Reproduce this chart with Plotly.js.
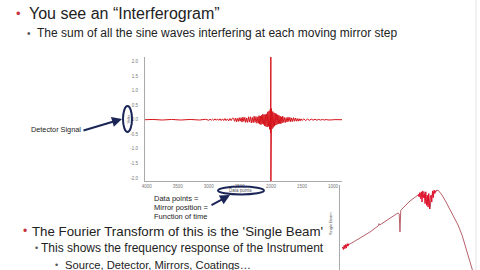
<!DOCTYPE html>
<html>
<head>
<meta charset="utf-8">
<script src="https://cdn.plot.ly/plotly-3.0.1.min.js"></script>
<style>html,body{margin:0;padding:0;background:#fff;}#chart{width:480px;height:270px;}</style>
</head>
<body>
<div id="chart"></div>
<script>
// Interferogram (detector signal vs data points)
const ifgX = [4027,3900,3750,3600,3450,3300,3150,3050,
  3000,2980,2960,2940,2920,2900,2880,2860,2840,2820,2800,2780,2760,2740,2720,2700,2680,2660,2640,2620,
  2600,2585,2570,2555,2540,2525,2510,2495,2480,2465,2450,2435,2420,2405,2390,2375,2360,2345,2330,2315,2300,2285,2270,2255,2240,2225,2210,
  2200,2190,2180,2170,2160,2150,2140,2130,2120,2110,2100,2090,2080,2070,2060,2050,2040,2030,2020,2010,
  2006,2003,2001,2000,1998,1995,
  1990,1980,1970,1960,1950,1940,1930,1920,1910,1900,1890,1880,1870,1860,1850,1840,1830,1820,1810,1800,
  1785,1770,1755,1740,1725,1710,1695,1680,1665,1650,1635,1620,1605,1590,1575,1560,1545,1530,1515,1500,
  1470,1440,1410,1380,1350,1320,1290,1260,1230,1200,1170,1140,1110,1080,1050,1020,
  980,920,855];
const ifgY = [0,0.01,-0.01,0.01,-0.01,0.01,-0.01,0.015,
  -0.02,0.02,-0.02,0.02,-0.02,0.03,-0.02,0.03,-0.02,0.03,-0.03,0.03,-0.03,0.04,-0.03,0.03,-0.04,0.04,-0.03,0.05,
  0.05,-0.05,0.06,-0.07,0.05,-0.06,0.07,-0.05,0.07,-0.08,0.09,-0.06,0.08,-0.09,0.06,-0.09,0.1,-0.08,0.1,-0.11,0.08,-0.1,0.12,-0.09,0.11,-0.12,0.1,
  -0.12,0.14,-0.15,0.13,-0.17,0.15,-0.14,0.19,-0.16,0.18,-0.21,0.18,-0.23,0.2,-0.25,0.27,-0.23,0.3,-0.33,0.36,
  -0.45,0.65,2.15,-2.12,0.55,-0.5,
  0.38,-0.31,0.28,-0.26,0.24,-0.22,0.22,-0.18,0.2,-0.16,0.17,-0.14,0.15,-0.13,0.12,-0.14,0.1,-0.11,0.12,-0.09,
  0.08,-0.1,0.07,-0.08,0.09,-0.06,0.08,-0.07,0.06,-0.06,0.07,-0.05,0.06,-0.05,0.04,-0.05,0.035,-0.04,0.03,-0.025,
  0.025,-0.025,0.02,-0.02,0.02,-0.015,0.015,-0.015,0.012,-0.012,0.01,-0.01,0.008,-0.008,0.006,-0.006,
  0.004,-0.004,0];
const ifgTickVals = [4000,3500,3000,2500,2000,1500,1000];
const ifgTickText = ["4000","3500","3000","2500","2000","1500","1000"];
const voltTickVals = [2,1.5,1,0.5,0,-0.5,-1,-1.5,-2];
const voltTickText = ["2.0","1.5","1.0","0.5","0.0","-0.5","-1.0","-1.5","-2.0"];

// Single beam spectrum
const sbX = [3900,3686,3419,3152,2930,2911,2890,2617,2403,2370,2350,2330,2296,2082,1868,1681,1628,1600,1548,1510,1468,1334,1227,1120,1013,906,799,692,585,478,398];
const sbY = [0.259,0.306,0.376,0.447,0.52,0.545,0.53,0.612,0.671,0.66,0.447,0.70,0.718,0.812,0.882,0.918,0.765,0.88,0.718,0.86,0.906,0.941,0.882,0.80,0.706,0.624,0.529,0.412,0.259,0.094,-0.024];
const sbNoiseX = [3880,3860,3840,3820,3800,3780,3760,3740,3720];
const sbNoiseY = [0.27,0.24,0.29,0.25,0.3,0.26,0.31,0.28,0.31];
const sbWaterX = [1860,1840,1820,1800,1780,1760,1740,1720,1700,1680,1660,1640,1620,1600,1580,1560,1540,1520,1500,1480,1460,1440,1420,1400,1380];
const sbWaterY = [0.89,0.86,0.91,0.84,0.92,0.8,0.93,0.85,0.9,0.78,0.92,0.76,0.88,0.74,0.9,0.72,0.86,0.88,0.8,0.93,0.85,0.94,0.9,0.93,0.94];

const W = 480, H = 270;
const px = v => v / W;
const py = v => 1 - v / H;
const FONT = "Liberation Sans, Arial, sans-serif";
const navy = "#1b2657";

function txt(text, x, y, size, color, extra) {
  return Object.assign({text: text, xref: "paper", yref: "paper", x: px(x), y: py(y),
    xanchor: "left", yanchor: "middle", showarrow: false,
    font: {family: FONT, size: size, color: color}}, extra || {});
}
function arrow(hx, hy, tx, ty) {
  return {text: "", xref: "paper", yref: "paper", x: px(hx), y: py(hy), ax: tx - hx, ay: ty - hy,
    showarrow: true, arrowhead: 2, arrowsize: 1, arrowwidth: 2, arrowcolor: navy, standoff: 0};
}

const traces = [
  {x: ifgX, y: ifgY, type: "scatter", mode: "lines", xaxis: "x", yaxis: "y",
   line: {color: "#d6141c", width: 1}, hoverinfo: "skip"},
  {x: sbX, y: sbY, type: "scatter", mode: "lines", xaxis: "x2", yaxis: "y2",
   line: {color: "#b8606a", width: 1}, hoverinfo: "skip"},
  {x: sbNoiseX, y: sbNoiseY, type: "scatter", mode: "lines", xaxis: "x2", yaxis: "y2",
   line: {color: "#e0102a", width: 1}, hoverinfo: "skip"},
  {x: sbWaterX, y: sbWaterY, type: "scatter", mode: "lines", xaxis: "x2", yaxis: "y2",
   line: {color: "#e0102a", width: 1}, hoverinfo: "skip"}
];

const layout = {
  width: W, height: H,
  margin: {l: 0, r: 0, t: 0, b: 0},
  paper_bgcolor: "#ffffff", plot_bgcolor: "rgba(0,0,0,0)",
  showlegend: false,
  font: {family: FONT},
  xaxis: {domain: [px(145), px(342)], range: [4027, 855], anchor: "y",
    tickvals: ifgTickVals, ticktext: ifgTickText, ticks: "", ticklabelstandoff: 1,
    tickfont: {size: 4.5, color: "#777"}, showline: true, linecolor: "#aaa", linewidth: 1,
    showgrid: false, zeroline: false, fixedrange: true},
  yaxis: {domain: [py(181), py(57)], range: [-2.1, 2.15], anchor: "x",
    tickvals: voltTickVals, ticktext: voltTickText, ticks: "", ticklabelstandoff: 5,
    tickfont: {size: 4.5, color: "#777"}, showline: true, linecolor: "#aaa", linewidth: 1,
    showgrid: false, zeroline: false, fixedrange: true},
  xaxis2: {domain: [px(340), px(478)], range: [3953, 265], anchor: "y2",
    showticklabels: false, ticks: "", showline: false, showgrid: false, zeroline: false},
  yaxis2: {domain: [0, py(185)], range: [0, 1], anchor: "x2",
    showticklabels: false, ticks: "", showline: true, linecolor: "#aaa", linewidth: 1,
    showgrid: false, zeroline: false},
  shapes: [
    {type: "circle", xref: "paper", yref: "paper", x0: px(123), x1: px(132), y0: py(132), y1: py(106),
     line: {color: navy, width: 2}},
    {type: "circle", xref: "paper", yref: "paper", x0: px(218), x1: px(264), y0: py(194.5), y1: py(186.5),
     line: {color: navy, width: 2}},
    {type: "line", xref: "paper", yref: "paper", x0: px(476), x1: px(476), y0: 0, y1: 1,
     line: {color: "#e4e4e4", width: 1}}
  ],
  annotations: [
    txt("•", 14, 14, 13, "#c8323c"),
    txt("You see an “Interferogram”", 27, 13, 16, "#222"),
    txt("•", 25, 33, 10, "#555"),
    txt("The sum of all the sine waves interfering at each moving mirror step", 35, 33, 12, "#222"),
    txt("Volts", 127.5, 119, 4, "#555", {xanchor: "center", textangle: -90}),
    txt("Data points", 241, 190.5, 4.5, "#555", {xanchor: "center"}),
    txt("Detector Signal", 29, 129, 7.3, "#222"),
    arrow(122, 119, 82, 131),
    txt("Data points =", 152, 198, 7.5, "#222"),
    txt("Mirror position =", 152, 207, 7.5, "#222"),
    txt("Function of time", 152, 216, 7.5, "#222"),
    arrow(230, 195, 210, 206),
    txt("Single Beam", 330, 224, 4, "#555", {xanchor: "center", textangle: -90}),
    txt("•", 21, 231, 12, "#c8323c"),
    txt("The Fourier Transform of this is the 'Single Beam'", 30, 231, 13.3, "#222"),
    txt("•", 33, 248, 9, "#555"),
    txt("This shows the frequency response of the Instrument", 39, 248, 12, "#222"),
    txt("•", 53, 265, 9, "#555"),
    txt("Source, Detector, Mirrors, Coatings…", 63, 265, 11.2, "#222")
  ]
};

Plotly.newPlot("chart", traces, layout, {staticPlot: true, displayModeBar: false});
</script>
</body>
</html>
